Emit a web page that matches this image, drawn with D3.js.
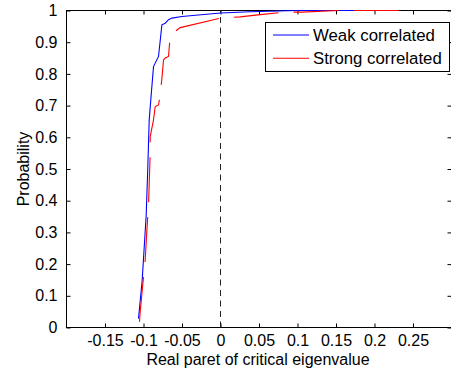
<!DOCTYPE html>
<html><head><meta charset="utf-8">
<script src="https://cdn.jsdelivr.net/npm/d3@7"></script>
<style>
html,body{margin:0;padding:0;background:#fff;}
svg text{font-family:"Liberation Sans",Arial,Helvetica,sans-serif;fill:#000;}
</style></head>
<body><svg id="c" width="451" height="374"></svg>
<script>
const weakX = [-0.1065,-0.1017,-0.0965,-0.0945,-0.0926,-0.09,-0.087,-0.0848,-0.0805,-0.0761,-0.0718,-0.0675,-0.0631,-0.0501,0,0.0386,0.1,0.172];
const weakP = [0.028,0.149,0.355,0.497,0.655,0.734,0.823,0.834,0.855,0.955,0.96,0.971,0.976,0.981,0.992,0.996,1.0,1.0];
const strongX = [-0.1052,-0.1043,-0.1,-0.0978,-0.0952,-0.0935,-0.0913,-0.0913,-0.087,-0.0848,-0.0805,-0.0783,-0.0761,-0.074,-0.0718,-0.0675,-0.0653,-0.0523,0,0.0256,0.0516,0.084,0.1057,0.155,0.24];
const strongP = [0.018,0.049,0.16,0.213,0.323,0.386,0.55,0.602,0.655,0.697,0.702,0.734,0.786,0.844,0.85,0.855,0.923,0.946,0.976,0.98,0.987,0.995,0.995,1.0,1.0];
const xTicks = [-0.15,-0.1,-0.05,0,0.05,0.1,0.15,0.2,0.25];
const xTickLabels = ["-0.15","-0.1","-0.05","0","0.05","0.1","0.15","0.2","0.25"];
const yTicks = [0,0.1,0.2,0.3,0.4,0.5,0.6,0.7,0.8,0.9,1];
const yTickLabels = ["0","0.1","0.2","0.3","0.4","0.5","0.6","0.7","0.8","0.9","1"];
const seriesNames = ["Weak correlated","Strong correlated"];
const seriesColors = ["#0000ff","#ff0000"];
const xLabel = "Real paret of critical eigenvalue";
const yLabel = "Probability";

const svg = d3.select("#c");
const L=66.5,R=451.5,T=10.5,B=327.5;
const x = d3.scaleLinear().domain([-0.2,0.3]).range([L,R]);
const y = d3.scaleLinear().domain([0,1]).range([B,T]);
const fs = 16;

const g = svg.append("g");
g.append("rect").attr("x",L).attr("y",T).attr("width",R-L).attr("height",B-T)
  .attr("fill","none").attr("stroke","#000").attr("stroke-width",1);

const xb = d3.axisBottom(x).tickValues(xTicks).tickSize(-4).tickPadding(10).tickFormat((d,i)=>xTickLabels[i]);
const xa = g.append("g").attr("transform",`translate(0,${B})`).call(xb);
xa.select(".domain").remove();
xa.selectAll("text").attr("font-size",fs).attr("font-family","Liberation Sans, Arial, sans-serif").attr("dy","0.71em").attr("y",7);
const xt = g.append("g").attr("transform",`translate(0,${T})`).call(d3.axisTop(x).tickValues(xTicks).tickSize(-4).tickFormat(""));
xt.select(".domain").remove();
const yl = g.append("g").attr("transform",`translate(${L},0)`).call(d3.axisLeft(y).tickValues(yTicks).tickSize(-4).tickPadding(9).tickFormat((d,i)=>yTickLabels[i]));
yl.select(".domain").remove();
yl.selectAll("text").attr("font-size",fs).attr("font-family","Liberation Sans, Arial, sans-serif");
const yr = g.append("g").attr("transform",`translate(${R},0)`).call(d3.axisRight(y).tickValues(yTicks).tickSize(-4).tickFormat(""));
yr.select(".domain").remove();
svg.selectAll(".tick line").attr("stroke","#000");

g.append("line").attr("x1",x(0)).attr("x2",x(0)).attr("y1",y(0)).attr("y2",y(1))
  .attr("stroke","#222").attr("stroke-width",1).attr("stroke-dasharray","6,4.5");

const line = d3.line().x(d=>x(d[0])).y(d=>y(d[1]));
const weak = weakX.map((v,i)=>[v,weakP[i]]);
const strong = strongX.map((v,i)=>[v,strongP[i]]);
svg.append("path").datum(weak).attr("d",line).attr("fill","none").attr("stroke",seriesColors[0]).attr("stroke-width",1.1);
svg.append("path").datum(strong).attr("d",line).attr("fill","none").attr("stroke",seriesColors[1]).attr("stroke-width",1.1).attr("stroke-dasharray","45,15");

const lg = svg.append("g");
lg.append("rect").attr("x",265.5).attr("y",22.5).attr("width",184).attr("height",49).attr("fill","#fff").attr("stroke","#000");
seriesNames.forEach((n,i)=>{
  const yy = 35 + i*23.3;
  lg.append("line").attr("x1",273).attr("x2",309).attr("y1",yy).attr("y2",yy).attr("stroke",seriesColors[i]).attr("stroke-width",1.1);
  lg.append("text").attr("x",313).attr("y",yy).attr("dy","0.35em").attr("font-size",16.8).text(n);
});

svg.append("text").attr("x",258).attr("y",365).attr("text-anchor","middle").attr("font-size",fs).text(xLabel);
svg.append("text").attr("transform",`translate(29,169) rotate(-90)`).attr("text-anchor","middle").attr("font-size",fs).text(yLabel);
</script></body></html>
